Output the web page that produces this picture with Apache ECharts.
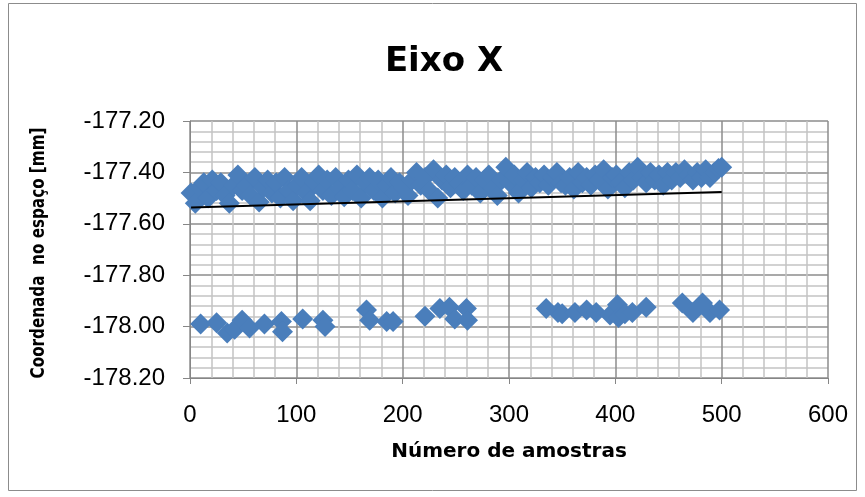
<!DOCTYPE html>
<html>
<head>
<meta charset="utf-8">
<script src="https://cdn.jsdelivr.net/npm/echarts@6/dist/echarts.min.js"></script>
<style>
  html, body { margin: 0; padding: 0; background: #ffffff; }
  #chart { width: 865px; height: 497px; }
</style>
</head>
<body>
<div id="chart"></div>
<script>
// Sample numbers and X coordinates (mm) of the main cluster
const upperSamples = [
  1, 5, 9, 13, 17, 21, 25, 29, 33, 37, 41, 45, 49,
  53, 57, 61, 65, 69, 73, 77, 81, 85, 89, 93, 97,
  101, 105, 109, 113, 117, 121, 125, 129, 133, 137, 141, 145, 149,
  153, 157, 161, 165, 169, 173, 177, 181, 185, 189, 193, 197,
  201, 205, 209, 213, 217, 221, 225, 229, 233, 237, 241, 245, 249,
  253, 257, 261, 265, 269, 273, 277, 281, 285, 289, 293, 297,
  301, 305, 309, 313, 317, 321, 325, 329, 333, 337, 341, 345, 349,
  353, 357, 361, 365, 369, 373, 377, 381, 385, 389, 393, 397,
  401, 405, 409, 413, 417, 421, 425, 429, 433, 437, 441, 445, 449,
  453, 457, 461, 465, 469, 473, 477, 481, 485, 489, 493, 497, 500
];
const upperCoords = [
  -177.48, -177.52, -177.46, -177.44, -177.50, -177.43, -177.47, -177.44, -177.49, -177.52, -177.45, -177.41, -177.47,
  -177.45, -177.49, -177.42, -177.515, -177.46, -177.43, -177.48, -177.44, -177.50, -177.42, -177.47, -177.51,
  -177.45, -177.42, -177.48, -177.51, -177.44, -177.41, -177.47, -177.43, -177.49, -177.42, -177.46, -177.495, -177.43,
  -177.47, -177.41, -177.50, -177.44, -177.42, -177.47, -177.43, -177.50, -177.45, -177.42, -177.48, -177.44,
  -177.46, -177.49, -177.43, -177.40, -177.45, -177.42, -177.47, -177.39, -177.50, -177.43, -177.41, -177.46, -177.42,
  -177.44, -177.47, -177.41, -177.45, -177.42, -177.48, -177.43, -177.41, -177.46, -177.49, -177.43, -177.38,
  -177.44, -177.41, -177.48, -177.43, -177.40, -177.46, -177.42, -177.44, -177.41, -177.45, -177.42, -177.40, -177.44,
  -177.45, -177.42, -177.465, -177.40, -177.44, -177.42, -177.45, -177.41, -177.43, -177.39, -177.465, -177.42,
  -177.41, -177.44, -177.46, -177.40, -177.43, -177.38, -177.42, -177.44, -177.40, -177.43, -177.41, -177.45, -177.40,
  -177.43, -177.40, -177.42, -177.39, -177.41, -177.43, -177.40, -177.42, -177.39, -177.42, -177.40, -177.385, -177.38
];

// Sample numbers and X coordinates (mm) of the offset readings near -178
const lowerSamples = [
  10, 25, 35, 42, 49, 56, 70, 86, 87, 106, 125, 127,
  166, 169, 185, 191, 221, 235, 244, 249, 260, 261,
  335, 346, 350, 362, 373, 382, 395, 402, 403, 409, 416, 429,
  463, 473, 482, 489, 498
];
const lowerCoords = [
  -177.99, -177.985, -178.025, -178.01, -177.975, -178.005, -177.99, -177.98, -178.02, -177.97, -177.975, -178.00,
  -177.935, -177.975, -177.98, -177.98, -177.96, -177.93, -177.925, -177.97, -177.93, -177.975,
  -177.93, -177.945, -177.95, -177.945, -177.935, -177.945, -177.955, -177.915, -177.965, -177.95, -177.945, -177.925,
  -177.908, -177.945, -177.908, -177.945, -177.935
];

// Linear trend line end points
const trendSamples = [1, 500];
const trendCoords = [-177.537, -177.476];

const chartTitle = 'Eixo X';
const xAxisTitle = 'Número de amostras';
const yAxisTitle = 'Coordenada  no espaço [mm]';

const pointColor = '#4a7ebb';
const wideFont = 'DejaVu Sans';
const tickFont = 'Liberation Sans';

const pairs = (xs, ys) => xs.map((x, i) => [x, ys[i]]);

const chart = echarts.init(document.getElementById('chart'), null, { renderer: 'canvas' });

chart.setOption({
  backgroundColor: '#ffffff',
  animation: false,
  title: {
    text: chartTitle,
    left: 439,
    textAlign: 'center',
    top: 40,
    textStyle: { fontFamily: wideFont, fontWeight: 'bold', fontSize: 34, color: '#000000' }
  },
  graphic: [
    {
      type: 'rect',
      shape: { x: 8.5, y: 3.5, width: 848, height: 487 },
      style: { fill: 'none', stroke: '#8c8c8c', lineWidth: 1 },
      silent: true,
      z: -10
    },
    {
      // vertical axis title, drawn condensed along its length
      type: 'text',
      x: 39,
      y: 253,
      rotation: Math.PI / 2,
      scaleX: 0.76,
      style: {
        text: yAxisTitle,
        fontFamily: wideFont,
        fontWeight: 'bold',
        fontSize: 20,
        fill: '#000000',
        align: 'center',
        verticalAlign: 'middle'
      },
      silent: true
    }
  ],
  grid: { left: 190, right: 37, top: 121, bottom: 119, containLabel: false },
  xAxis: {
    type: 'value',
    min: 0,
    max: 600,
    interval: 100,
    name: xAxisTitle,
    nameLocation: 'middle',
    nameGap: 64,
    nameTextStyle: { fontFamily: wideFont, fontWeight: 'bold', fontSize: 20, color: '#000000' },
    axisLine: { show: true, onZero: false, lineStyle: { color: '#868686', width: 1 } },
    axisTick: { show: true, inside: false, length: 6, lineStyle: { color: '#868686' } },
    axisLabel: { margin: 25, fontFamily: tickFont, fontSize: 24, color: '#000000' },
    splitLine: { show: true, lineStyle: { color: '#8c8c8c', width: 1.5 } },
    minorTick: { show: false, splitNumber: 5 },
    minorSplitLine: { show: true, lineStyle: { color: '#c4c4c4', width: 1.5 } }
  },
  yAxis: {
    type: 'value',
    min: -178.2,
    max: -177.2,
    interval: 0.2,
    axisLine: { show: true, lineStyle: { color: '#868686', width: 1 } },
    axisTick: { show: true, inside: false, length: 7, lineStyle: { color: '#868686' } },
    axisLabel: {
      margin: 25,
      fontFamily: tickFont,
      fontSize: 24,
      color: '#000000',
      formatter: v => v.toFixed(2)
    },
    splitLine: { show: true, lineStyle: { color: '#8c8c8c', width: 1.5 } },
    minorTick: { show: false, splitNumber: 5 },
    minorSplitLine: { show: true, lineStyle: { color: '#c4c4c4', width: 1.5 } }
  },
  series: [
    {
      name: 'Coordenada',
      type: 'scatter',
      symbol: 'diamond',
      symbolSize: 21,
      itemStyle: { color: pointColor, opacity: 1 },
      data: pairs(upperSamples, upperCoords).concat(pairs(lowerSamples, lowerCoords)),
      z: 2
    },
    {
      name: 'Linear (Coordenada)',
      type: 'line',
      showSymbol: false,
      symbol: 'none',
      lineStyle: { color: '#000000', width: 2 },
      data: pairs(trendSamples, trendCoords),
      z: 3
    }
  ]
});
</script>
</body>
</html>
